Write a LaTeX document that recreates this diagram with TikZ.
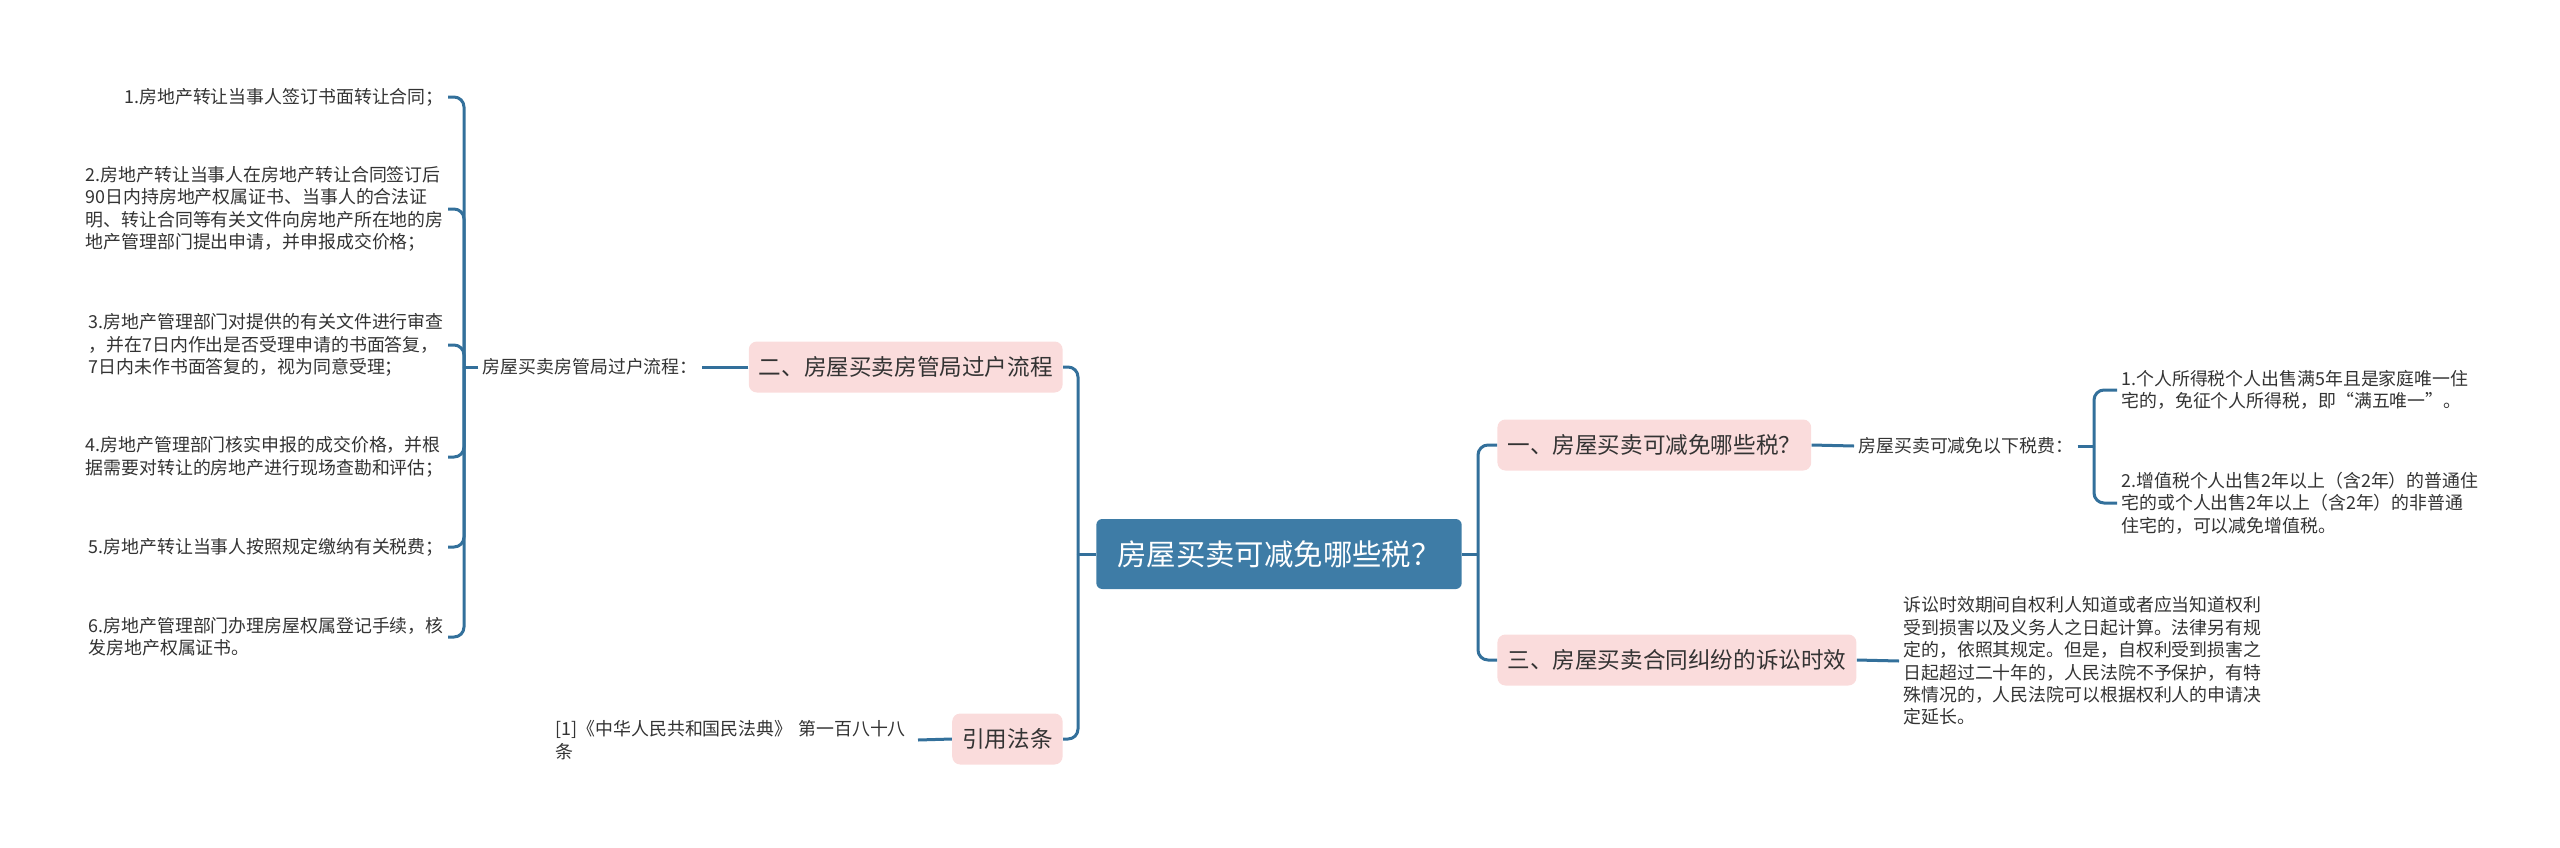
\documentclass[tikz,border=0pt]{standalone}
\usepackage{fontspec}
\setmainfont{Noto Sans CJK SC}
\usepackage{tikz}
\usetikzlibrary{positioning, calc}
\definecolor{rootBlue}{HTML}{3E7CA6}
\definecolor{linkBlue}{HTML}{33709B}
\definecolor{topicPink}{HTML}{FADCDC}
\definecolor{txtGray}{HTML}{333333}

\begin{document}
\begin{tikzpicture}[x=0.5pt, y=-0.5pt,
  rootbox/.style={fill=rootBlue, text=white, rounded corners=3pt, font=\fontsize{14.7}{17}\selectfont,
                  minimum height=35pt, inner xsep=10.5pt},
  topic/.style={fill=topicPink, text=txtGray, rounded corners=4pt, font=\fontsize{11.3}{13}\selectfont,
                minimum height=25.5pt, inner xsep=5pt},
  leaf/.style={text=txtGray, font=\fontsize{8.95}{11.2}\selectfont, align=left, inner sep=2pt},
  link/.style={draw=linkBlue, line width=1.5pt, rounded corners=5pt},
]
  \useasboundingbox (0,0) rectangle (2560,847);
  \def\xl{1063}\def\xr{1497}\def\xleaf{448}
  % centre and main topics
  \node[rootbox] (root) at (1279,554) {房屋买卖可减免哪些税？};
  \node[topic, anchor=west] (t1) at (\xr,445) {一、房屋买卖可减免哪些税？};
  \node[topic, anchor=west] (t3) at (\xr,660) {三、房屋买卖合同纠纷的诉讼时效};
  \node[topic, anchor=east] (t2) at (\xl,367) {二、房屋买卖房管局过户流程};
  \node[topic, anchor=east] (t4) at (\xl,739) {引用法条};
  \coordinate (ltrunk) at (1078,554);
  \coordinate (rtrunk) at (1478,554);
  \draw[link] (root.west) -- (ltrunk);
  \draw[link] (ltrunk) |- (t2.east);
  \draw[link] (ltrunk) |- (t4.east);
  \draw[link] (root.east) -- (rtrunk);
  \draw[link] (rtrunk) |- (t1.west);
  \draw[link] (rtrunk) |- (t3.west);
  % right side
  \node[leaf, anchor=west] (taxes) at (1854,446) {房屋买卖可减免以下税费：};
  \coordinate (rbrace) at (2094,446);
  \node[leaf, anchor=west] (tax1) at (2117,390) {1.个人所得税个人出售满5年且是家庭唯一住\\宅的，免征个人所得税，即“满五唯一”。};
  \node[leaf, anchor=west] (tax2) at (2117,503) {2.增值税个人出售2年以上（含2年）的普通住\\宅的或个人出售2年以上（含2年）的非普通\\住宅的，可以减免增值税。};
  \draw[link] (t1.east) -- (taxes.west);
  \draw[link] (taxes.east) -- (rbrace);
  \draw[link] (rbrace) |- (tax1.west);
  \draw[link] (rbrace) |- (tax2.west);
  \node[leaf, anchor=west] (limit) at (1899,661) {诉讼时效期间自权利人知道或者应当知道权利\\受到损害以及义务人之日起计算。法律另有规\\定的，依照其规定。但是，自权利受到损害之\\日起超过二十年的，人民法院不予保护，有特\\殊情况的，人民法院可以根据权利人的申请决\\定延长。};
  \draw[link] (t3.east) -- (limit.west);
  % left side
  \node[leaf, anchor=east] (flow) at (702,367) {房屋买卖房管局过户流程：};
  \coordinate (lbrace) at (464,367);
  \draw[link] (t2.west) -- (flow.east);
  \draw[link] (flow.west) -- (lbrace);
  \node[leaf, anchor=east] (s1) at (\xleaf,97) {1.房地产转让当事人签订书面转让合同；};
  \node[leaf, anchor=east] (s2) at (\xleaf,209) {2.房地产转让当事人在房地产转让合同签订后\\90日内持房地产权属证书、当事人的合法证\\明、转让合同等有关文件向房地产所在地的房\\地产管理部门提出申请，并申报成交价格；};
  \node[leaf, anchor=east] (s3) at (\xleaf,345) {3.房地产管理部门对提供的有关文件进行审查\\，并在7日内作出是否受理申请的书面答复，\\7日内未作书面答复的，视为同意受理；};
  \node[leaf, anchor=east] (s4) at (\xleaf,457) {4.房地产管理部门核实申报的成交价格，并根\\据需要对转让的房地产进行现场查勘和评估；};
  \node[leaf, anchor=east] (s5) at (\xleaf,547) {5.房地产转让当事人按照规定缴纳有关税费；};
  \node[leaf, anchor=east] (s6) at (\xleaf,637) {6.房地产管理部门办理房屋权属登记手续，核\\发房地产权属证书。};
  \foreach \s in {s1,s2,s3,s4,s5,s6}
    \draw[link] (lbrace) |- (\s.east);
  \node[leaf, anchor=east, text width=179pt] (cite) at (918,740) {[1]《中华人民共和国民法典》 第一百八十八\\条};
  \draw[link] (t4.west) -- (cite.east);
\end{tikzpicture}
\end{document}
